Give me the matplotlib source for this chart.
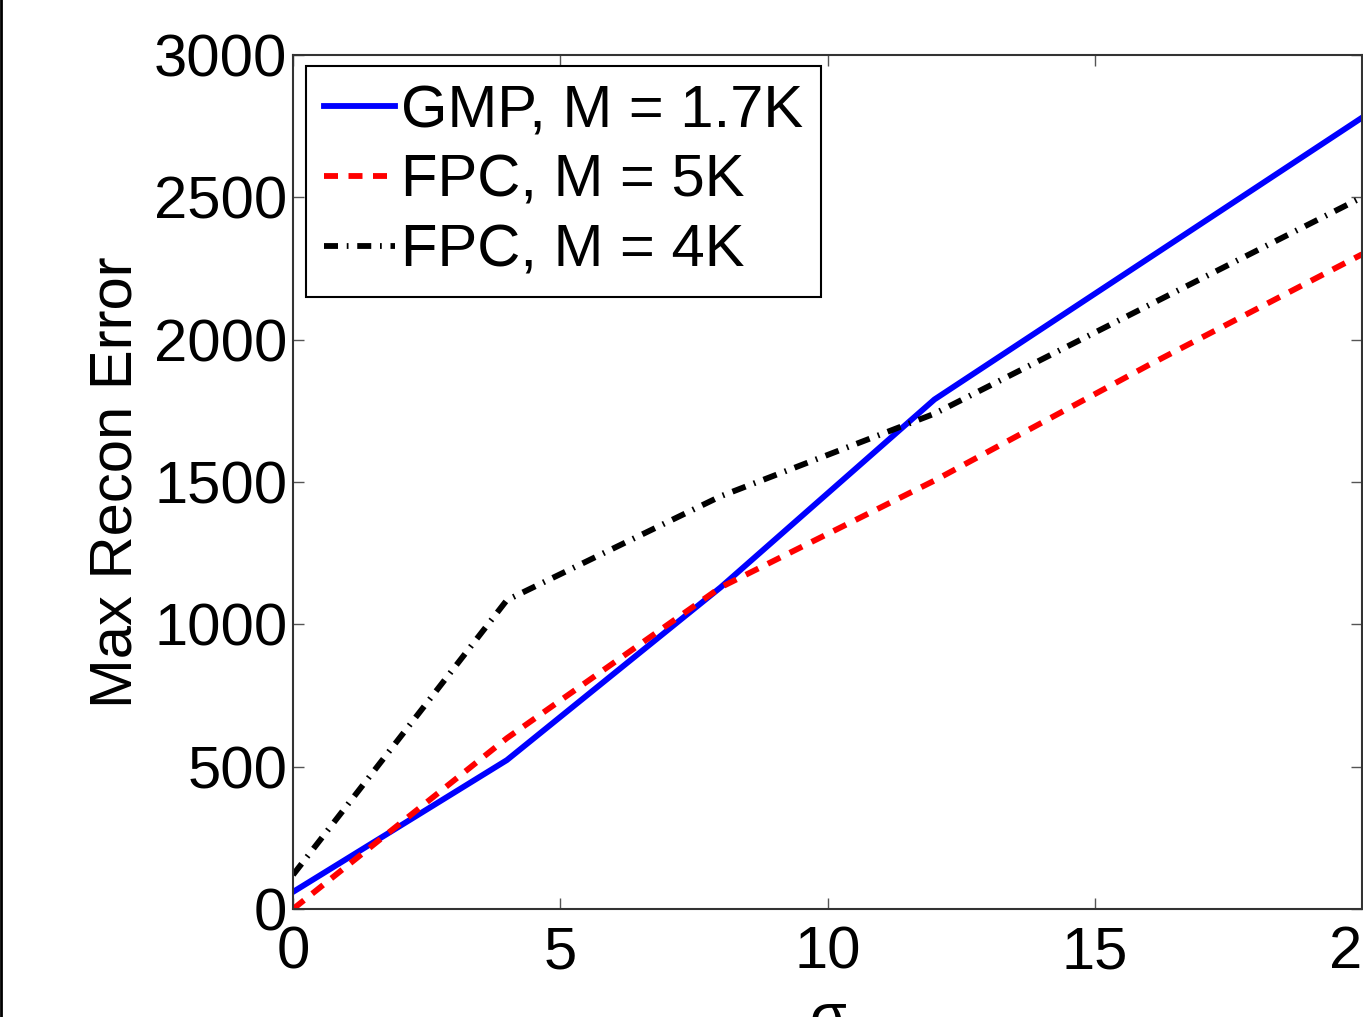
import numpy as np
import matplotlib
matplotlib.use("Agg")
import matplotlib.pyplot as plt
from matplotlib.lines import Line2D

plt.rcParams['font.family'] = ['Liberation Sans', 'DejaVu Sans']

# data
sigma = [0, 4, 8, 12, 16, 20]
gmp_17k = [60, 523, 1130, 1790, 2285, 2780]
fpc_5k = [0, 600, 1130, 1505, 1910, 2300]
fpc_4k = [120, 1085, 1450, 1740, 2120, 2500]

labels = ['GMP, M = 1.7K', 'FPC, M = 5K', 'FPC, M = 4K']
xticks = [0, 5, 10, 15, 20]
yticks = [0, 500, 1000, 1500, 2000, 2500, 3000]

FS = 43

fig = plt.figure(figsize=(13.63, 10.17), dpi=100)
ax = fig.add_axes([0.215, 0.1062, 0.7843, 0.8397])

ax.plot(sigma, gmp_17k, color='#0000ff', lw=4.2, label=labels[0])
ax.plot(sigma, fpc_5k, color='#ff0000', lw=4.2, dashes=(2.4, 1.8), label=labels[1])
ax.plot(sigma, fpc_4k, color='black', lw=4.2, dashes=(2.4, 1.5, 0.3, 1.5), label=labels[2])

ax.set_xlim(0, 20)
ax.set_ylim(0, 3000)
ax.set_xticks(xticks)
ax.set_yticks(yticks)
ax.tick_params(direction='in', length=8, width=1, color='#555555',
               top=True, right=True, labelsize=FS)
ax.tick_params(axis='x', pad=12)
ax.tick_params(axis='y', pad=4)
for sp in ax.spines.values():
    sp.set_color('#333333')
    sp.set_linewidth(1.5)

ax.set_ylabel('Max Recon Error', fontsize=FS, labelpad=8)
ax.set_xlabel('σ', fontsize=FS, labelpad=8)

leg = ax.legend(loc='upper left', bbox_to_anchor=(0.012, 0.987), borderaxespad=0,
                fontsize=FS, handlelength=1.2, handletextpad=0.1,
                labelspacing=0.25, borderpad=0.3, fancybox=False, framealpha=1)
leg.get_frame().set_edgecolor('black')
leg.get_frame().set_linewidth(1.5)

# thin black border on the left edge of the crop
fig.add_artist(Line2D([0.0008, 0.0008], [0, 1], transform=fig.transFigure,
                      color='black', lw=2))

fig.savefig('out.png', dpi=100)
